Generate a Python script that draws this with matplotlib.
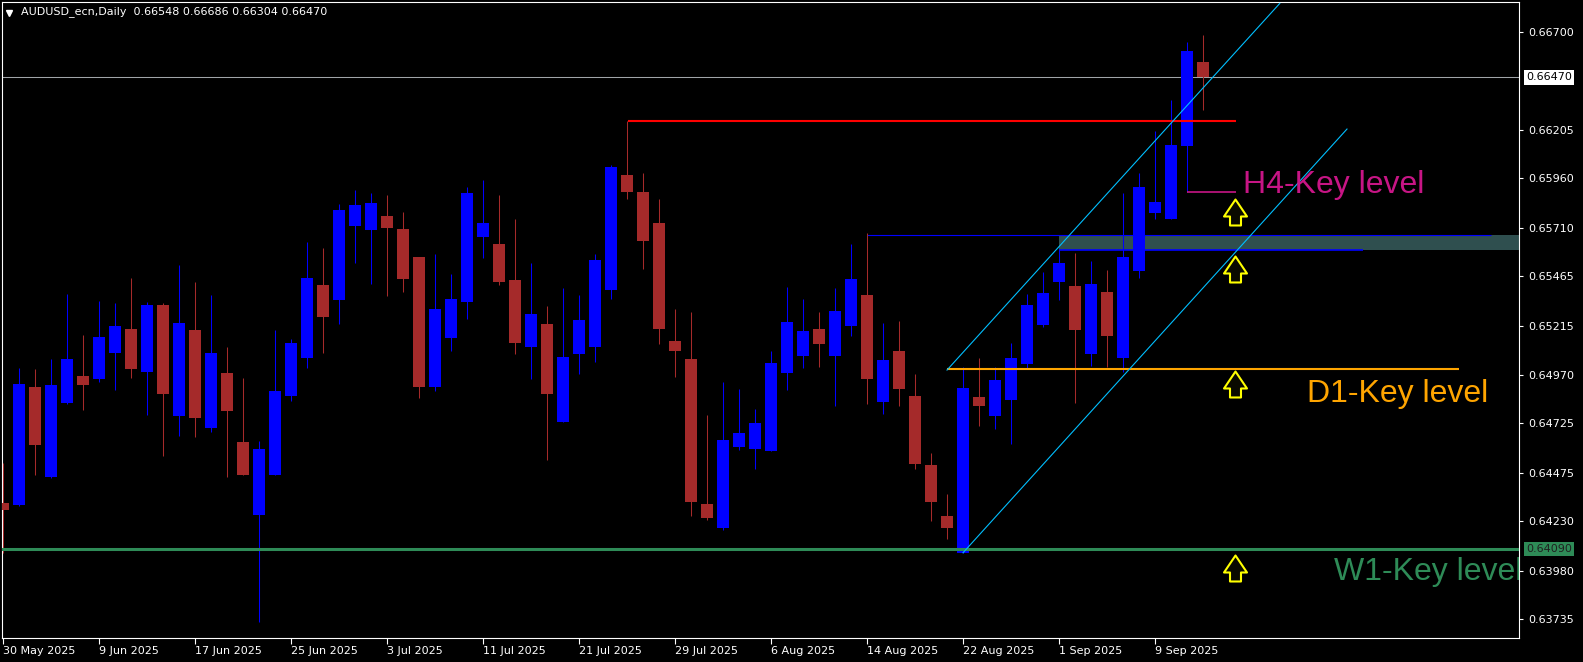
import numpy as np
import matplotlib.pyplot as plt
import matplotlib.transforms as mtransforms
from matplotlib.patches import Rectangle
from matplotlib.path import Path

# daily AUDUSD candles, 30 May 2025 .. 12 Sep 2025
opens = [0.64322, 0.64312, 0.64907, 0.64453, 0.64826, 0.64963, 0.64948, 0.65079, 0.65200, 0.64983,
         0.65321, 0.64761, 0.65195, 0.64700, 0.64978, 0.64630, 0.64261, 0.64463, 0.64862, 0.65054,
         0.65422, 0.65346, 0.65720, 0.65699, 0.65770, 0.65704, 0.65563, 0.64907, 0.65154, 0.65336,
         0.65664, 0.65629, 0.65447, 0.65109, 0.65225, 0.64731, 0.65074, 0.65109, 0.65397, 0.65977,
         0.65891, 0.65735, 0.65139, 0.65049, 0.64317, 0.64196, 0.64604, 0.64594, 0.64584, 0.64978,
         0.65064, 0.65200, 0.65064, 0.65215, 0.65371, 0.64832, 0.65089, 0.64862, 0.64514, 0.64256,
         0.64070, 0.64857, 0.64761, 0.64842, 0.65023, 0.65220, 0.65437, 0.65417, 0.65074, 0.65387,
         0.65054, 0.65493, 0.65785, 0.65755, 0.66123, 0.66548]
highs = [0.64524, 0.65003, 0.64998, 0.65049, 0.65377, 0.65170, 0.65341, 0.65331, 0.65457, 0.65336,
         0.65331, 0.65523, 0.65437, 0.65371, 0.65109, 0.64953, 0.64635, 0.65195, 0.65149, 0.65639,
         0.65609, 0.65831, 0.65901, 0.65886, 0.65876, 0.65790, 0.65563, 0.65578, 0.65477, 0.65916,
         0.65952, 0.65876, 0.65755, 0.65533, 0.65316, 0.65407, 0.65371, 0.65578, 0.66027, 0.66249,
         0.65987, 0.65856, 0.65301, 0.65286, 0.64766, 0.64932, 0.64897, 0.64796, 0.65089, 0.65412,
         0.65351, 0.65286, 0.65407, 0.65629, 0.65684, 0.65230, 0.65240, 0.64973, 0.64574, 0.64367,
         0.65008, 0.65054, 0.65008, 0.65129, 0.65377, 0.65487, 0.65604, 0.65583, 0.65543, 0.65498,
         0.65886, 0.65987, 0.66199, 0.66355, 0.66648, 0.66686]
lows = [0.64071, 0.64307, 0.64463, 0.64448, 0.64821, 0.64791, 0.64932, 0.64892, 0.64953, 0.64766,
        0.64559, 0.64660, 0.64655, 0.64680, 0.64453, 0.64463, 0.63721, 0.64463, 0.64837, 0.65003,
        0.65079, 0.65225, 0.65533, 0.65427, 0.65366, 0.65387, 0.64852, 0.64887, 0.65089, 0.65250,
        0.65558, 0.65422, 0.65074, 0.64948, 0.64539, 0.64731, 0.64973, 0.65033, 0.65351, 0.65856,
        0.65503, 0.65124, 0.64958, 0.64256, 0.64236, 0.64186, 0.64589, 0.64493, 0.64584, 0.64892,
        0.65003, 0.65008, 0.64811, 0.65165, 0.64821, 0.64771, 0.64811, 0.64493, 0.64231, 0.64140,
        0.64070, 0.64710, 0.64695, 0.64620, 0.65003, 0.65210, 0.65346, 0.64826, 0.65013, 0.65008,
        0.64983, 0.65457, 0.65755, 0.65755, 0.65891, 0.66304]
closes = [0.64287, 0.64922, 0.64615, 0.64917, 0.65049, 0.64917, 0.65160, 0.65215, 0.64998, 0.65321,
          0.64872, 0.65230, 0.64751, 0.65079, 0.64786, 0.64463, 0.64594, 0.64887, 0.65129, 0.65457,
          0.65260, 0.65800, 0.65826, 0.65836, 0.65710, 0.65452, 0.64907, 0.65301, 0.65351, 0.65886,
          0.65735, 0.65437, 0.65129, 0.65276, 0.64872, 0.65059, 0.65245, 0.65548, 0.66017, 0.65891,
          0.65644, 0.65200, 0.65089, 0.64327, 0.64246, 0.64640, 0.64675, 0.64726, 0.65028, 0.65235,
          0.65190, 0.65124, 0.65291, 0.65452, 0.64948, 0.65043, 0.64897, 0.64519, 0.64327, 0.64196,
          0.64902, 0.64811, 0.64943, 0.65054, 0.65321, 0.65382, 0.65533, 0.65195, 0.65427, 0.65165,
          0.65563, 0.65916, 0.65841, 0.66128, 0.66603, 0.66470]

date_pos = [0, 6, 12, 18, 24, 30, 36, 42, 48, 54, 60, 66, 72]
date_labels = ["30 May 2025", "9 Jun 2025", "17 Jun 2025", "25 Jun 2025", "3 Jul 2025",
               "11 Jul 2025", "21 Jul 2025", "29 Jul 2025", "6 Aug 2025", "14 Aug 2025",
               "22 Aug 2025", "1 Sep 2025", "9 Sep 2025"]
price_ticks = [0.66700, 0.66205, 0.65960, 0.65710, 0.65465, 0.65215,
               0.64970, 0.64725, 0.64475, 0.64230, 0.63980, 0.63735]

last_price = 0.66470
w1_level = 0.64090
d1_level = 0.64998
h4_level = 0.65891
red_level = 0.66250
zone_top = 0.65675
zone_bottom = 0.65599
# channel lines (bar index, price)
chan_up_x = [59.0, 79.8]
chan_up_y = [0.64993, 0.66843]
chan_dn_x = [60.0, 84.0]
chan_dn_y = [0.64071, 0.66209]
arrow_x = [77.0, 77.0, 77.0, 77.0]
arrow_y = [0.65788, 0.65501, 0.64924, 0.63996]

fig = plt.figure(figsize=(15.83, 6.62), dpi=100, facecolor='black')
ax = fig.add_axes([2/1583, 24/662, 1517/1583, 636/662])
ax.set_facecolor('black')
ax.set_xlim(-0.0625, 94.75)
ax.set_ylim(0.63641, 0.66850)

x = np.arange(len(opens))
o = np.array(opens)
c = np.array(closes)
cols = ['#0000ff' if cc >= oo else '#a52a2a' for oo, cc in zip(o, c)]
ax.vlines(x, lows, highs, colors=cols, linewidth=0.75, zorder=3)
ax.bar(x, c - o, bottom=o, width=0.69, color=cols, linewidth=0, zorder=4)

# levels and zones
ax.axhline(last_price, color='#a0a4a8', linewidth=0.75, zorder=2)
ax.axhline(w1_level, color='#2e8b57', linewidth=2.2, zorder=5)
ax.add_patch(Rectangle((66, zone_bottom), 40, zone_top - zone_bottom,
                       facecolor='#2f4f4f', edgecolor='none', zorder=1))
ax.hlines(zone_top, 54, 93, color='#0000ff', linewidth=0.8, zorder=2)
ax.hlines(zone_bottom, 66, 85, color='#0000ff', linewidth=1.2, zorder=2)
ax.hlines(red_level, 39.05, 77.05, color='#ff0000', linewidth=1.5, zorder=5)
ax.hlines(d1_level, 59.0, 91.0, color='#ffa500', linewidth=1.5, zorder=5)
ax.hlines(h4_level, 74, 77.05, color='#c71585', linewidth=1.2, zorder=5)
ax.plot(chan_up_x, chan_up_y, color='#00bfff', linewidth=0.8, zorder=6)
ax.plot(chan_dn_x, chan_dn_y, color='#00bfff', linewidth=0.8, zorder=6)

# hollow up arrows
arrow = Path([(0, 13), (11.5, -4), (5.5, -4), (5.5, -13), (-5.5, -13), (-5.5, -4), (-11.5, -4), (0, 13)],
             [Path.MOVETO] + [Path.LINETO] * 6 + [Path.CLOSEPOLY])
ax.plot(arrow_x, arrow_y, linestyle='none', marker=arrow, markersize=18.7,
        markerfacecolor='#0a0a00', markeredgecolor='#ffff00', markeredgewidth=1.5, zorder=7)

lbl = dict(family='Liberation Sans', fontsize=23, va='baseline', ha='left', zorder=8)
ax.text(77.5, 0.65885, "H4-Key level", color='#c71585', **lbl)
ax.text(81.5, 0.64833, "D1-Key level", color='#ffa500', **lbl)
ax.text(83.2, 0.63933, "W1-Key level", color='#2e8b57', clip_on=True, **lbl)

# header
ax.plot([7/1517], [1 - 10.5/636], transform=ax.transAxes, marker='v', color='white',
        markersize=5, linestyle='none')
ax.text(19/1517, 1 - 10/636, "AUDUSD_ecn,Daily  0.66548 0.66686 0.66304 0.66470",
        transform=ax.transAxes, color='white', fontsize=8, va='center', ha='left')

# axes styling
for s in ax.spines.values():
    s.set_color('white')
    s.set_linewidth(0.8)
ax.yaxis.tick_right()
ax.set_yticks(price_ticks)
ax.set_yticklabels([f"{p:.5f}" for p in price_ticks])
ax.set_xticks(date_pos)
ax.set_xticklabels(date_labels, ha='left')
ax.tick_params(axis='x', colors='white', length=4, width=0.8, pad=2, labelsize=8)
ax.tick_params(axis='y', colors='white', length=3, width=0.8, pad=4, labelsize=8)

trans = mtransforms.blended_transform_factory(ax.transAxes, ax.transData)
ax.text(1 + 7/1517, last_price, "0.66470", transform=trans, color='black', fontsize=8,
        va='center', ha='left', bbox=dict(boxstyle='square,pad=0.2', fc='white', ec='none'))
ax.text(1 + 7/1517, w1_level, "0.64090", transform=trans, color='#202020', fontsize=8,
        va='center', ha='left', bbox=dict(boxstyle='square,pad=0.2', fc='#2e8b57', ec='none'))

fig.savefig('out.png', dpi=100, facecolor='black')
